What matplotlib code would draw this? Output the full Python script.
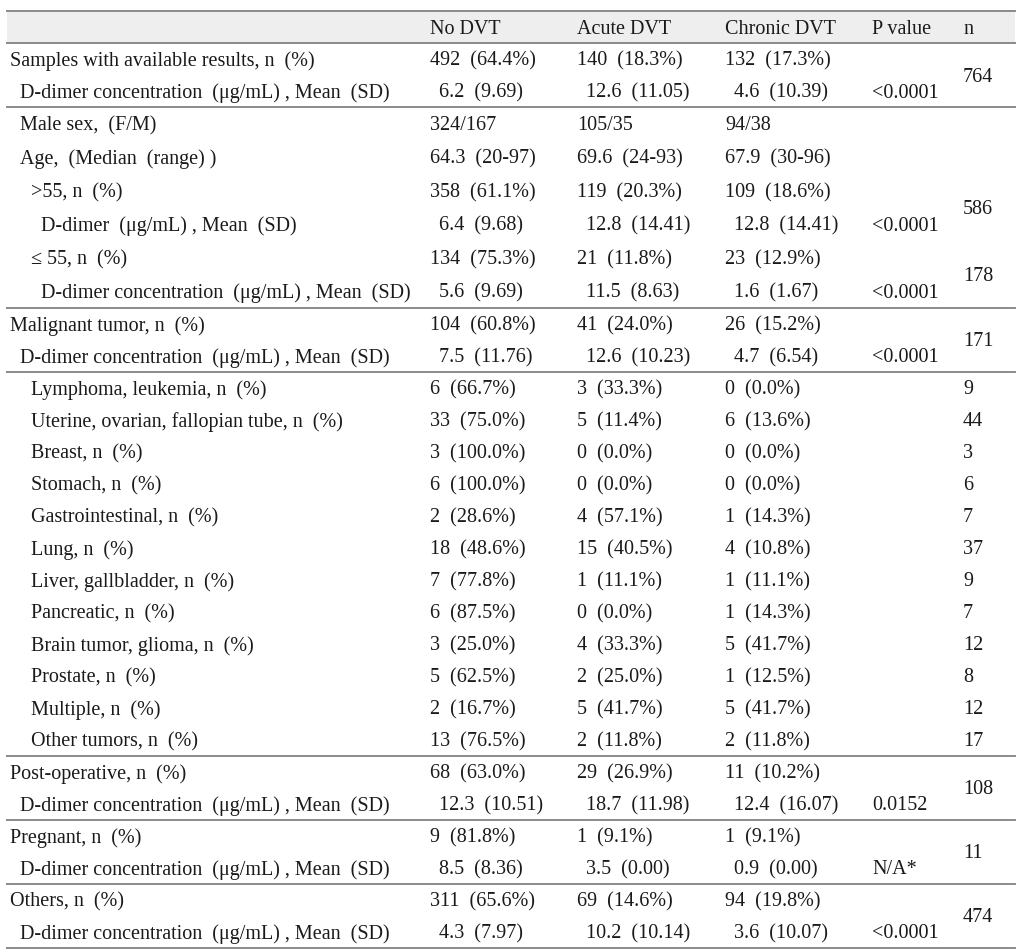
import matplotlib
matplotlib.use("Agg")
import matplotlib.pyplot as plt

# ---------------- data ----------------
columns = ["No DVT", "Acute DVT", "Chronic DVT", "P value", "n"]

row_labels = [
    "Samples with available results, n (%)",
    "D-dimer concentration (\u03bcg/mL), Mean (SD)",
    "Male sex, (F/M)",
    "Age, (Median (range))",
    ">55, n (%)",
    "D-dimer (\u03bcg/mL), Mean (SD)",
    "\u2264 55, n (%)",
    "D-dimer concentration (\u03bcg/mL), Mean (SD)",
    "Malignant tumor, n (%)",
    "D-dimer concentration (\u03bcg/mL), Mean (SD)",
    "Lymphoma, leukemia, n (%)",
    "Uterine, ovarian, fallopian tube, n (%)",
    "Breast, n (%)",
    "Stomach, n (%)",
    "Gastrointestinal, n (%)",
    "Lung, n (%)",
    "Liver, gallbladder, n (%)",
    "Pancreatic, n (%)",
    "Brain tumor, glioma, n (%)",
    "Prostate, n (%)",
    "Multiple, n (%)",
    "Other tumors, n (%)",
    "Post-operative, n (%)",
    "D-dimer concentration (\u03bcg/mL), Mean (SD)",
    "Pregnant, n (%)",
    "D-dimer concentration (\u03bcg/mL), Mean (SD)",
    "Others, n (%)",
    "D-dimer concentration (\u03bcg/mL), Mean (SD)",
]

indent_level = [0, 1, 1, 1, 2, 3, 2, 3, 0, 1,
                2, 2, 2, 2, 2, 2, 2, 2, 2, 2, 2, 2,
                0, 1, 0, 1, 0, 1]

no_dvt = ["492 (64.4%)", "6.2 (9.69)", "324/167", "64.3 (20-97)", "358 (61.1%)",
          "6.4 (9.68)", "134 (75.3%)", "5.6 (9.69)", "104 (60.8%)", "7.5 (11.76)",
          "6 (66.7%)", "33 (75.0%)", "3 (100.0%)", "6 (100.0%)", "2 (28.6%)",
          "18 (48.6%)", "7 (77.8%)", "6 (87.5%)", "3 (25.0%)", "5 (62.5%)",
          "2 (16.7%)", "13 (76.5%)", "68 (63.0%)", "12.3 (10.51)", "9 (81.8%)",
          "8.5 (8.36)", "311 (65.6%)", "4.3 (7.97)"]

acute_dvt = ["140 (18.3%)", "12.6 (11.05)", "105/35", "69.6 (24-93)", "119 (20.3%)",
             "12.8 (14.41)", "21 (11.8%)", "11.5 (8.63)", "41 (24.0%)", "12.6 (10.23)",
             "3 (33.3%)", "5 (11.4%)", "0 (0.0%)", "0 (0.0%)", "4 (57.1%)",
             "15 (40.5%)", "1 (11.1%)", "0 (0.0%)", "4 (33.3%)", "2 (25.0%)",
             "5 (41.7%)", "2 (11.8%)", "29 (26.9%)", "18.7 (11.98)", "1 (9.1%)",
             "3.5 (0.00)", "69 (14.6%)", "10.2 (10.14)"]

chronic_dvt = ["132 (17.3%)", "4.6 (10.39)", "94/38", "67.9 (30-96)", "109 (18.6%)",
               "12.8 (14.41)", "23 (12.9%)", "1.6 (1.67)", "26 (15.2%)", "4.7 (6.54)",
               "0 (0.0%)", "6 (13.6%)", "0 (0.0%)", "0 (0.0%)", "1 (14.3%)",
               "4 (10.8%)", "1 (11.1%)", "1 (14.3%)", "5 (41.7%)", "1 (12.5%)",
               "5 (41.7%)", "2 (11.8%)", "11 (10.2%)", "12.4 (16.07)", "1 (9.1%)",
               "0.9 (0.00)", "94 (19.8%)", "3.6 (10.07)"]

p_values = ["", "<0.0001", "", "", "", "<0.0001", "", "<0.0001", "", "<0.0001",
            "", "", "", "", "", "", "", "", "", "", "", "",
            "", "0.0152", "", "N/A*", "", "<0.0001"]

# n values: (first row index, number of rows spanned, value)
n_first_row = [0, 4, 6, 8, 10, 11, 12, 13, 14, 15, 16, 17, 18, 19, 20, 21, 22, 24, 26]
n_span = [2, 2, 2, 2, 1, 1, 1, 1, 1, 1, 1, 1, 1, 1, 1, 1, 2, 2, 2]
n_values = ["764", "586", "178", "171", "9", "44", "3", "6", "7", "37", "9", "7",
            "12", "8", "12", "17", "108", "11", "474"]

# rows after which a horizontal rule is drawn
rule_after = [1, 7, 9, 21, 23, 25, 27]
# rows that are D-dimer rows (values shifted slightly)
ddimer_rows = [1, 5, 7, 9, 23, 25, 27]


def fw(s):
    """Imitate the wide (full-width) parentheses of the original typesetting."""
    return s.replace(" (", "  (").replace("),", ") ,").replace("))", ") )")


# ---------------- layout ----------------
W, H = 1024, 953
fig = plt.figure(figsize=(W / 100, H / 100), dpi=100)
ax = fig.add_axes([0, 0, 1, 1])
ax.set_xlim(0, W)
ax.set_ylim(H, 0)
ax.axis("off")

FONT = "Liberation Serif"
FS = 14.5
TXT = "#1a1a1a"
RULE = "#8a8a8a"

x_left, x_right = 7, 1015
top, header_bottom = 12, 44
indent_x = [10, 20, 31, 41]
col_x = [430, 577, 725, 872, 963]

# row heights
row_h = []
for i in range(len(row_labels)):
    row_h.append(33.5 if 2 <= i <= 7 else 32.0)
row_top = [header_bottom]
for h in row_h[:-1]:
    row_top.append(row_top[-1] + h)
row_center = [t + h / 2 for t, h in zip(row_top, row_h)]

# header band
ax.fill_between([x_left, x_right], top, header_bottom, color="#eeeeee", lw=0, zorder=0)
ax.plot([x_left, x_right], [top, top], color=RULE, lw=1.4)
ax.plot([x_left, x_right], [header_bottom, header_bottom], color=RULE, lw=1.4)
for c, x in zip(columns, col_x):
    ax.text(x, (top + header_bottom) / 2 + 1, c, fontsize=FS, family=FONT,
            color=TXT, va="center", ha="left")

for i, lab in enumerate(row_labels):
    y = row_center[i] + 1
    ax.text(indent_x[indent_level[i]], y, fw(lab), fontsize=FS, family=FONT,
            color=TXT, va="center", ha="left")
    shift = 9 if i in ddimer_rows else 0
    for j, vals in enumerate([no_dvt, acute_dvt, chronic_dvt]):
        ax.text(col_x[j] + shift, y, fw(vals[i]), fontsize=FS, family=FONT,
                color=TXT, va="center", ha="left")
    if p_values[i]:
        ax.text(col_x[3], y, p_values[i], fontsize=FS, family=FONT,
                color=TXT, va="center", ha="left")

for r0, span, v in zip(n_first_row, n_span, n_values):
    yc = row_top[r0] + sum(row_h[r0:r0 + span]) / 2 + 1
    ax.text(col_x[4], yc, v, fontsize=FS, family=FONT, color=TXT,
            va="center", ha="left")

for r in rule_after:
    yl = row_top[r] + row_h[r]
    ax.plot([x_left, x_right], [yl, yl], color=RULE, lw=1.4)

fig.savefig("out.png", dpi=100, facecolor="white")
